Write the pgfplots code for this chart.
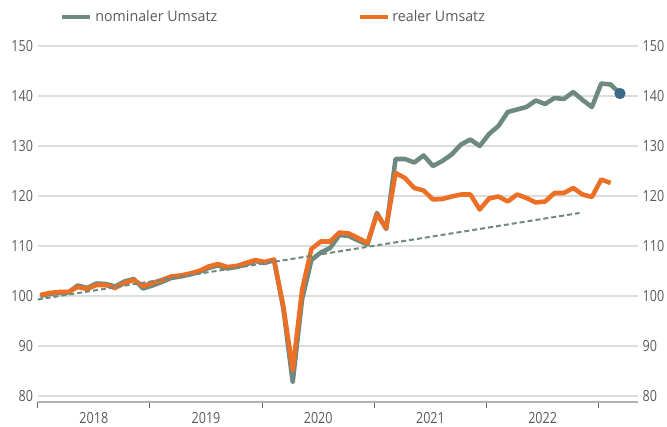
\documentclass[border=0pt]{standalone}
\usepackage{fontspec}
\setmainfont[FakeStretch=0.82]{Open Sans}
\newfontfamily\legfont[FakeStretch=0.97]{Open Sans}
\usepackage{pgfplots}
\usepackage{pgfplotstable}
\pgfplotsset{compat=1.18}
\definecolor{nomc}{HTML}{6E8A7E}
\definecolor{realc}{HTML}{EB6F24}
\definecolor{gridc}{HTML}{DCDCDC}
\definecolor{txtc}{HTML}{5A5A5A}
\definecolor{markc}{HTML}{3E6A8A}

\pgfplotstableread{
m nom real
0 100.0 100.2
1 100.4 100.6
2 100.6 100.8
3 100.7 100.8
4 102.1 101.8
5 101.6 101.4
6 102.5 102.2
7 102.4 102.2
8 101.9 101.6
9 102.9 102.6
10 103.4 103.2
11 101.5 102.0
12 102.1 102.6
13 102.8 103.2
14 103.6 103.9
15 103.9 104.1
16 104.3 104.5
17 104.8 105.0
18 105.6 105.9
19 106.1 106.4
20 105.5 105.8
21 105.8 106.0
22 106.3 106.6
23 107.0 107.2
24 106.6 106.8
25 107.2 107.3
26 97.5 97.9
27 82.8 85.2
28 99.3 101.2
29 107.2 109.4
30 108.7 110.9
31 109.6 110.9
32 112.2 112.7
33 112.0 112.5
34 111.1 111.6
35 110.3 110.6
36 116.6 116.3
37 113.4 113.6
38 127.4 124.6
39 127.4 123.6
40 126.7 121.6
41 128.1 121.1
42 126.0 119.3
43 127.0 119.4
44 128.3 119.9
45 130.3 120.3
46 131.3 120.3
47 130.0 117.3
48 132.4 119.5
49 134.0 119.9
50 136.8 118.9
51 137.3 120.3
52 137.8 119.6
53 139.1 118.7
54 138.4 118.9
55 139.6 120.6
56 139.4 120.6
57 140.8 121.6
58 139.2 120.3
59 137.8 119.8
60 142.5 123.3
61 142.3 122.6
62 140.5 nan
}\data

\pgfplotsset{
  common/.style={
    at={(28.3pt,18.75pt)}, anchor=south west, scale only axis,
    width=450.2pt, height=270.75pt,
    xmin=0, xmax=64.2, ymin=78.8, ymax=151,
    ytick={80,90,...,150},
    y axis line style={draw=none},
    ytick style={draw=none},
    /pgf/number format/assume math mode=true,
    tick label style={font=\fontsize{11.5}{13}\selectfont, text=txtc},
  }
}

\begin{document}
\begin{tikzpicture}
\useasboundingbox (0,0) rectangle (500.25pt,320.25pt);
\begin{axis}[common,
  axis y line*=right, hide x axis,
]
\end{axis}
\begin{axis}[common,
  axis x line*=bottom, axis y line*=left,
  ymajorgrids, major grid style={gridc, line width=2pt},
  x axis line style={draw=black!30, line width=1.2pt},
  xtick={0,12,24,36,48,60}, xticklabels={},
  xtick align=outside, major tick length=4.5pt,
  xtick style={draw=black!60, line width=0.7pt},
  extra x ticks={6,18,30,42,54},
  extra x tick labels={2018,2019,2020,2021,2022},
  extra x tick style={major tick length=0pt, xtick style={draw=none}, xticklabel style={yshift=-4pt}},
  legend columns=2,
  legend style={at={(0.037,1.066)}, anchor=west, draw=none, fill=none,
    inner sep=0pt, font=\legfont\fontsize{11}{13}\selectfont, text=txtc,
    /tikz/every even column/.append style={column sep=103pt}},
  legend image code/.code={\draw[#1, line width=3.4pt] (0pt,0pt) -- (21pt,0pt);},
]
\addplot[nomc, line width=3.4pt, line join=round] table[x expr=\thisrow{m}+0.27, y=nom]{\data};
\addlegendentry{nominaler Umsatz}
\addplot[realc, line width=3.4pt, line join=round, unbounded coords=jump] table[x expr=\thisrow{m}+0.27, y=real]{\data};
\addlegendentry{realer Umsatz}
\addplot[nomc, line width=1.5pt, dash pattern=on 3.75pt off 2.25pt, forget plot] coordinates {(0,99.3) (57.95,116.6)};
\addplot[only marks, mark=*, mark size=4pt, markc, forget plot] coordinates {(62.27,140.5)};
\end{axis}
\end{tikzpicture}
\end{document}
